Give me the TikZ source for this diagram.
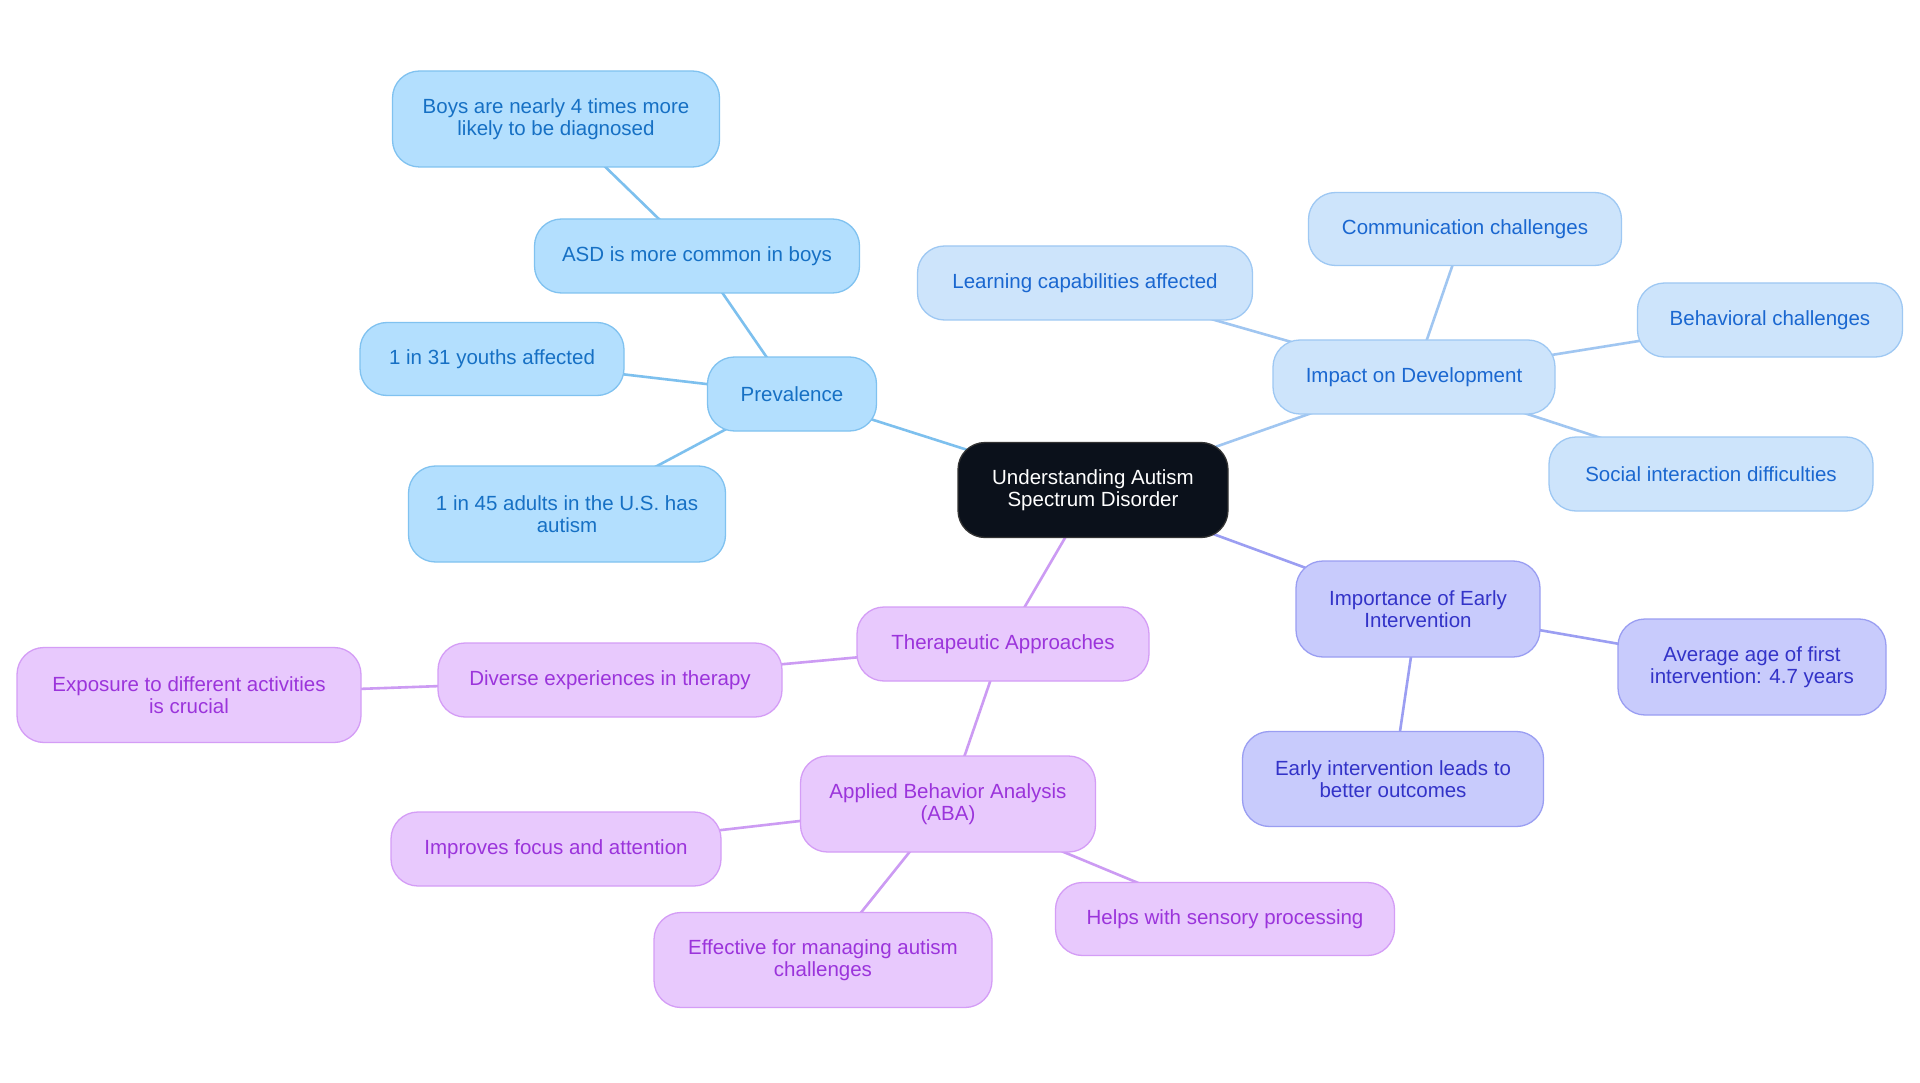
\documentclass[tikz,border=0pt]{standalone}
\usepackage{fontspec}
\setmainfont{Liberation Sans}
\usetikzlibrary{backgrounds}
\definecolor{pfill}{HTML}{B3DFFE}
\definecolor{pdraw}{HTML}{80C2F0}
\definecolor{ptext}{HTML}{1670C4}
\definecolor{pline}{HTML}{7DC0EE}
\definecolor{ifill}{HTML}{CDE4FB}
\definecolor{idraw}{HTML}{9EC8F3}
\definecolor{itext}{HTML}{1A67D0}
\definecolor{iline}{HTML}{A0C6F1}
\definecolor{efill}{HTML}{C8CBFC}
\definecolor{edraw}{HTML}{9A9EF2}
\definecolor{etext}{HTML}{3333C8}
\definecolor{eline}{HTML}{9B9EF2}
\definecolor{tfill}{HTML}{E8C9FD}
\definecolor{tdraw}{HTML}{D49DF6}
\definecolor{ttext}{HTML}{9B34DB}
\definecolor{tline}{HTML}{CC9BF3}
\definecolor{rootfill}{HTML}{0B111B}
\begin{document}
\begin{tikzpicture}[x=1pt,y=-1pt,
  box/.style={rectangle, rounded corners=27pt, line width=1.3pt, inner sep=0pt,
    align=center, font=\fontsize{20.5}{22}\selectfont},
  prev/.style={box, fill=pfill, draw=pdraw, text=ptext},
  imp/.style={box, fill=ifill, draw=idraw, text=itext},
  early/.style={box, fill=efill, draw=edraw, text=etext},
  ther/.style={box, fill=tfill, draw=tdraw, text=ttext},
  rootbox/.style={box, fill=rootfill, draw=black!80, text=white},
  sz/.style n args={2}{minimum width=#1pt, minimum height=#2pt},
  link/.style={line width=2.6pt},
]
\useasboundingbox (0,0) rectangle (1920,1083);

\node[rootbox, sz={270}{95}] (root) at (1093,490) {Understanding Autism\\Spectrum Disorder};

\node[prev, sz={169}{74}] (prevalence) at (792,394) {Prevalence};
\node[prev, sz={325}{74}] (asd) at (697,256) {ASD is more common in boys};
\node[prev, sz={327}{96}] (boys) at (556,119) {Boys are nearly 4 times more\\likely to be diagnosed};
\node[prev, sz={264}{73}] (youths) at (492,359) {1 in 31 youths affected};
\node[prev, sz={317}{96}] (adults) at (567,514) {1 in 45 adults in the U.S. has\\autism};

\node[imp, sz={282}{74}] (impact) at (1414,377) {Impact on Development};
\node[imp, sz={335}{74}] (learning) at (1085,283) {Learning capabilities affected};
\node[imp, sz={313}{73}] (comm) at (1465,229) {Communication challenges};
\node[imp, sz={265}{74}] (behav) at (1770,320) {Behavioral challenges};
\node[imp, sz={324}{74}] (social) at (1711,474) {Social interaction difficulties};

\node[early, sz={244}{96}] (importance) at (1418,609) {Importance of Early\\Intervention};
\node[early, sz={268}{96}] (average) at (1752,667) {Average age of first\\intervention: 4.7 years};
\node[early, sz={301}{95}] (earlyout) at (1393,779) {Early intervention leads to\\better outcomes};

\node[ther, sz={292}{74}] (therapeutic) at (1003,644) {Therapeutic Approaches};
\node[ther, sz={344}{74}] (diverse) at (610,680) {Diverse experiences in therapy};
\node[ther, sz={344}{95}] (exposure) at (189,695) {Exposure to different activities\\is crucial};
\node[ther, sz={295}{96}] (aba) at (948,804) {Applied Behavior Analysis\\(ABA)};
\node[ther, sz={330}{74}] (focus) at (556,849) {Improves focus and attention};
\node[ther, sz={338}{95}] (effective) at (823,960) {Effective for managing autism\\challenges};
\node[ther, sz={339}{73}] (sensory) at (1225,919) {Helps with sensory processing};

\begin{scope}[on background layer]
\fill[white] (0,0) rectangle (1920,1083);
\draw[link, pline] (root.center) -- (prevalence.center);
\draw[link, pline] (prevalence.center) -- (asd.center);
\draw[link, pline] (asd.center) -- (boys.center);
\draw[link, pline] (prevalence.center) -- (youths.center);
\draw[link, pline] (prevalence.center) -- (adults.center);
\draw[link, iline] (root.center) -- (impact.center);
\draw[link, iline] (impact.center) -- (learning.center);
\draw[link, iline] (impact.center) -- (comm.center);
\draw[link, iline] (impact.center) -- (behav.center);
\draw[link, iline] (impact.center) -- (social.center);
\draw[link, eline] (root.center) -- (importance.center);
\draw[link, eline] (importance.center) -- (average.center);
\draw[link, eline] (importance.center) -- (earlyout.center);
\draw[link, tline] (root.center) -- (therapeutic.center);
\draw[link, tline] (therapeutic.center) -- (diverse.center);
\draw[link, tline] (diverse.center) -- (exposure.center);
\draw[link, tline] (therapeutic.center) -- (aba.center);
\draw[link, tline] (aba.center) -- (focus.center);
\draw[link, tline] (aba.center) -- (effective.center);
\draw[link, tline] (aba.center) -- (sensory.center);
\end{scope}
\end{tikzpicture}
\end{document}
